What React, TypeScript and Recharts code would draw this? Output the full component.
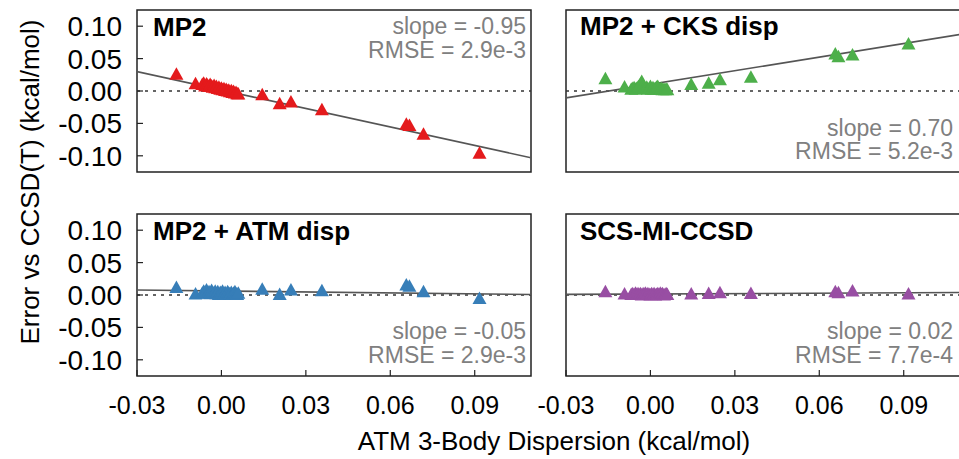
import React from 'react';
import { ScatterChart, Scatter, XAxis, YAxis, ReferenceLine, ReferenceArea } from 'recharts';

// ---------- data ----------
const xTicks = [-0.03, 0, 0.03, 0.06, 0.09];
const yTicks = [-0.1, -0.05, 0, 0.05, 0.1];
const xDomain = [-0.03, 0.11];
const yDomain = [-0.125, 0.125];

// ATM 3-body dispersion (shared x values for all panels)
const atmDisp = [
  -0.016, -0.0092,
  -0.0068, -0.0063, -0.0058, -0.0053, -0.0049, -0.0044, -0.004, -0.0035, -0.0031, -0.0026,
  -0.0022, -0.0018, -0.0013, -0.0009, -0.0004, 0.0, 0.0004, 0.0009, 0.0013, 0.0017,
  0.0022, 0.0026, 0.003, 0.0035, 0.0039, 0.0043, 0.0048, 0.0052, 0.0056, 0.006,
  0.0145, 0.0207, 0.0247, 0.0357, 0.0657, 0.0668, 0.0718, 0.0917,
];

const mp2Err = [
  0.027, 0.0123,
  0.011, 0.013, 0.009, 0.012, 0.01, 0.008, 0.011, 0.009, 0.007, 0.0095,
  0.006, 0.008, 0.005, 0.007, 0.004, 0.0055, 0.003, 0.0045, 0.002, 0.0035,
  0.001, 0.0025, 0.0, 0.0015, -0.001, 0.0005, -0.002, -0.001, -0.003, -0.0035,
  -0.0046, -0.0184, -0.0158, -0.0276, -0.05, -0.052, -0.0655, -0.095,
];

const cksErr = [
  0.0199, 0.0072,
  0.004, 0.005, 0.006, 0.004, 0.005, 0.007, 0.009, 0.012, 0.016, 0.01,
  0.006, 0.005, 0.007, 0.004, 0.005, 0.008, 0.004, 0.006, 0.004, 0.005,
  0.007, 0.008, 0.005, 0.004, 0.005, 0.003, 0.004, 0.003, 0.004, 0.003,
  0.0112, 0.0133, 0.0184, 0.0225, 0.0583, 0.054, 0.0567, 0.0736,
];

const atmErr = [
  0.0128, 0.0026,
  0.004, 0.007, 0.005, 0.009, 0.004, 0.006, 0.003, 0.008, 0.005, 0.004,
  0.007, 0.003, 0.006, 0.002, 0.005, 0.004, 0.007, 0.003, 0.005, 0.002,
  0.006, 0.004, 0.003, 0.005, 0.002, 0.004, 0.006, 0.003, 0.002, 0.004,
  0.0102, 0.002, 0.0087, 0.0077, 0.0164, 0.0148, 0.0061, -0.0041,
];

const scsErr = [
  0.006, 0.0026,
  0.002, 0.003, 0.002, 0.004, 0.002, 0.003, 0.002, 0.003, 0.001, 0.003,
  0.002, 0.004, 0.002, 0.003, 0.002, 0.001, 0.003, 0.002, 0.003, 0.001,
  0.002, 0.003, 0.002, 0.004, 0.002, 0.003, 0.001, 0.002, 0.003, 0.002,
  0.0026, 0.0036, 0.0046, 0.0036, 0.006, 0.0046, 0.0072, 0.0026,
];

const panelErrors = [mp2Err, cksErr, atmErr, scsErr];
const panelNames = ['MP2', 'MP2 + CKS disp', 'MP2 + ATM disp', 'SCS-MI-CCSD'];
const panelColors = ['#E41A1C', '#4DAF4A', '#377EB8', '#984EA3'];
const fitSlopes = [-0.95, 0.7, -0.05, 0.02];
const fitIntercepts = [0.0015, 0.0103, 0.0062, 0.0016];
const slopeLabels = ['slope = -0.95', 'slope = 0.70', 'slope = -0.05', 'slope = 0.02'];
const rmseLabels = ['RMSE = 2.9e-3', 'RMSE = 5.2e-3', 'RMSE = 2.9e-3', 'RMSE = 7.7e-4'];

const yAxisTitle = 'Error vs CCSD(T) (kcal/mol)';
const xAxisTitle = 'ATM 3-Body Dispersion (kcal/mol)';

// ---------- layout ----------
const FONT = '"Liberation Sans", Arial, Helvetica, sans-serif';
const PLOT_W = 394;
const PLOT_H = 162;
const TICK_FS = 25;
const YTICK_FS = 28;

const Triangle = (props: any) => {
  const { cx, cy, fill } = props;
  if (cx == null || cy == null) return <g />;
  const w = 14;
  const h = 12.5;
  return (
    <path
      d={`M${cx},${cy - h / 2} L${cx + w / 2},${cy + h / 2} L${cx - w / 2},${cy + h / 2} Z`}
      fill={fill}
    />
  );
};

const NoShape = () => <g />;

function Panel({ idx, left, top, showX, showY }: { idx: number; left: number; top: number; showX: boolean; showY: boolean }) {
  const data = atmDisp.map((x, i) => ({ x, y: panelErrors[idx][i] }));
  const fit = xDomain.map((x) => ({ x, y: fitIntercepts[idx] + fitSlopes[idx] * x }));
  const yAxisW = showY ? 137 : 60;
  const xAxisH = showX ? 60 : 10;
  const width = yAxisW + PLOT_W + 5;
  const height = 10 + PLOT_H + xAxisH;
  return (
    <div style={{ position: 'absolute', left: left - yAxisW, top: top - 10 }}>
      <ScatterChart width={width} height={height} margin={{ top: 10, right: 5, bottom: 0, left: 0 }}>
        <XAxis
          type="number"
          dataKey="x"
          domain={xDomain}
          ticks={xTicks}
          interval={0}
          allowDataOverflow
          height={xAxisH}
          axisLine={false}
          tickLine={{ stroke: '#222', strokeWidth: 1.2 }}
          tickSize={-6}
          tickMargin={26}
          tick={showX ? { fill: '#000', fontSize: TICK_FS, fontFamily: FONT } : false}
          tickFormatter={(v: number) => v.toFixed(2)}
        />
        <YAxis
          type="number"
          dataKey="y"
          domain={yDomain}
          ticks={yTicks}
          interval={0}
          allowDataOverflow
          width={yAxisW}
          axisLine={false}
          tickLine={{ stroke: '#222', strokeWidth: 1.2 }}
          tickSize={-6}
          tickMargin={21}
          tick={showY ? { fill: '#000', fontSize: YTICK_FS, fontFamily: FONT } : false}
          tickFormatter={(v: number) => v.toFixed(2)}
        />
        <ReferenceLine y={0} stroke="#333" strokeDasharray="3 5" strokeWidth={1.3} />
        <Scatter data={fit} line={{ stroke: '#555', strokeWidth: 1.6 }} shape={NoShape} isAnimationActive={false} />
        <Scatter data={data} fill={panelColors[idx]} shape={Triangle} isAnimationActive={false} />
        <ReferenceArea
          x1={xDomain[0]}
          x2={xDomain[1]}
          y1={yDomain[0]}
          y2={yDomain[1]}
          fill="none"
          fillOpacity={0}
          stroke="#222"
          strokeWidth={1.5}
          ifOverflow="visible"
        />
      </ScatterChart>
    </div>
  );
}

export default function App() {
  const titlePos = [
    { x: 153, y: 36 },
    { x: 580, y: 35 },
    { x: 153, y: 240 },
    { x: 580, y: 240 },
  ];
  const statPos = [
    { x: 526, y1: 34, y2: 58 },
    { x: 953, y1: 136, y2: 159 },
    { x: 526, y1: 339, y2: 363 },
    { x: 953, y1: 339, y2: 363 },
  ];
  return (
    <div
      style={{
        position: 'absolute',
        left: 0,
        top: 0,
        width: 959,
        height: 459,
        overflow: 'hidden',
        background: '#fff',
        fontFamily: FONT,
      }}
    >
      <Panel idx={0} left={137} top={10} showX={false} showY={true} />
      <Panel idx={1} left={565.5} top={10} showX={false} showY={false} />
      <Panel idx={2} left={137} top={214} showX={true} showY={true} />
      <Panel idx={3} left={565.5} top={214} showX={true} showY={false} />
      <svg
        width={959}
        height={459}
        style={{ position: 'absolute', left: 0, top: 0, pointerEvents: 'none' }}
      >
        {panelNames.map((name, i) => (
          <text key={'t' + i} x={titlePos[i].x} y={titlePos[i].y} fontSize={26} fontWeight="bold" fill="#000" fontFamily={FONT}>
            {name}
          </text>
        ))}
        {slopeLabels.map((s, i) => (
          <g key={'s' + i}>
            <text x={statPos[i].x} y={statPos[i].y1} fontSize={23} fill="#808080" textAnchor="end" fontFamily={FONT}>
              {s}
            </text>
            <text x={statPos[i].x} y={statPos[i].y2} fontSize={23} fill="#808080" textAnchor="end" fontFamily={FONT}>
              {rmseLabels[i]}
            </text>
          </g>
        ))}
        <text
          transform="translate(39,182) rotate(-90)"
          textAnchor="middle"
          fontSize={26}
          fill="#000"
          fontFamily={FONT}
        >
          {yAxisTitle}
        </text>
        <text x={554} y={450} textAnchor="middle" fontSize={26} fill="#000" fontFamily={FONT}>
          {xAxisTitle}
        </text>
      </svg>
    </div>
  );
}
